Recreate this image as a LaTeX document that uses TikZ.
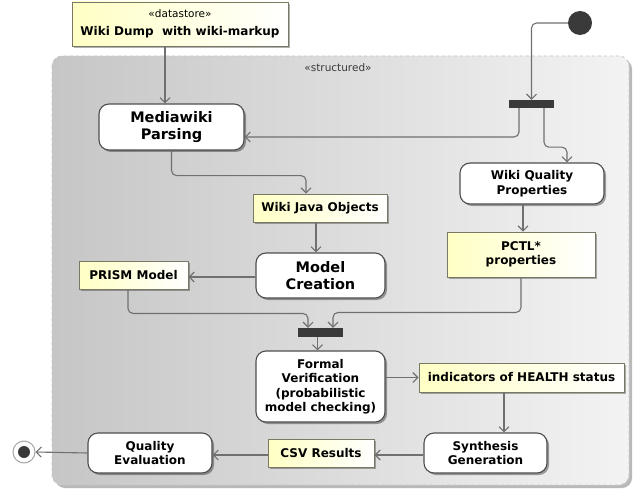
\documentclass[tikz,border=0pt]{standalone}
\usepackage{fontspec}
\setmainfont{DejaVu Sans}
\usetikzlibrary{arrows.meta,shadows}
\definecolor{edgec}{RGB}{112,112,112}
\definecolor{darkc}{RGB}{58,58,58}
\definecolor{objborder}{RGB}{120,120,100}
\definecolor{objyel}{RGB}{255,255,196}
\definecolor{regL}{RGB}{198,198,198}
\definecolor{regR}{RGB}{243,243,243}
\tikzset{
  action/.style={rectangle, rounded corners=10pt, draw=darkc!90, line width=1.1pt, fill=white,
    align=center, inner sep=0pt, font=\bfseries\fontsize{12}{14.5}\selectfont,
    drop shadow={shadow xshift=2pt, shadow yshift=-2pt, opacity=0.35, fill=black}},
  bigaction/.style={action, font=\bfseries\fontsize{14.5}{17}\selectfont},
  obj/.style={rectangle, draw=objborder, line width=0.9pt, left color=objyel, right color=white,
    align=center, inner sep=0pt, font=\bfseries\fontsize{12}{14.5}\selectfont,
    drop shadow={shadow xshift=2pt, shadow yshift=-2pt, opacity=0.3, fill=black}},
  bar/.style={rectangle, fill=darkc, draw=none, inner sep=0pt},
  flow/.style={draw=edgec, line width=1.1pt, rounded corners=5pt,
    -{Straight Barb[length=5pt,width=10pt]}},
  stereo/.style={font=\fontsize{10.5}{12}\selectfont}
}
\begin{document}
\begin{tikzpicture}[x=1pt,y=-1pt]
\useasboundingbox (0,0) rectangle (644,489);
\fill[white] (0,0) rectangle (644,489);
% structured region
\fill[gray!55, rounded corners=10pt] (55,59) rectangle (632,488);
\shade[left color=regL, right color=regR, rounded corners=10pt] (52,56) rectangle (629,485);
\draw[gray!45, dashed, line width=0.8pt, rounded corners=10pt] (52,56) rectangle (629,485);
\node[stereo, text=darkc] (stlabel) at (338,68) {«structured»};

% nodes
\node[obj, minimum width=216pt, minimum height=44pt] (ds) at (180,24)
  {{\mdseries\fontsize{10.5}{12}\selectfont «datastore»}\\[3pt] Wiki Dump\ \ with wiki-markup};
\node[bigaction, minimum width=145pt, minimum height=46pt] (mp) at (171.5,127) {Mediawiki\\Parsing};
\node[obj, minimum width=134pt, minimum height=28pt] (wjo) at (320,208) {Wiki Java Objects};
\node[bigaction, minimum width=129pt, minimum height=45pt] (mc) at (320.5,275.5) {Model\\Creation};
\node[action, minimum width=144pt, minimum height=41pt] (wqp) at (532,183.5) {Wiki Quality\\Properties};
\node[obj, minimum width=148pt, minimum height=45pt] (pctl) at (521,254.5) {PCTL*\\properties};
\node[obj, minimum width=109pt, minimum height=28pt] (prism) at (133.5,275) {PRISM Model};
\node[action, minimum width=129pt, minimum height=71pt] (fv) at (320.5,386.5)
  {Formal\\Verification\\(probabilistic\\model checking)};
\node[obj, minimum width=205pt, minimum height=29pt] (ind) at (521.5,377.5) {indicators of HEALTH status};
\node[action, minimum width=123pt, minimum height=40pt] (syn) at (485.5,453) {Synthesis\\Generation};
\node[obj, minimum width=106pt, minimum height=28pt] (csv) at (321,453) {CSV Results};
\node[action, minimum width=124pt, minimum height=40pt] (qe) at (150,453) {Quality\\Evaluation};

\node[circle, fill=darkc, minimum size=24pt, inner sep=0pt] (init) at (580,23) {};
\node[bar, minimum width=45pt, minimum height=8pt] (fork) at (531.5,104) {};
\node[bar, minimum width=45pt, minimum height=9pt] (join) at (320.5,332.5) {};
\node[circle, draw=gray!70, line width=1pt, fill=white, minimum size=22pt, inner sep=0pt] (final) at (24,452) {};
\node[circle, fill=darkc, minimum size=12pt, inner sep=0pt] (finaldot) at (final) {};

% connectors
\draw[flow] (init.west) -| (fork.north);
\draw[flow] ([xshift=-12.5pt]fork.south) |- ([yshift=-10pt]mp.east);
\draw[flow] ([xshift=12.5pt]fork.south) -- ++(0,39) -| ([xshift=35pt]wqp.north);
\draw[flow] ([xshift=-15pt]ds.south) -- ([xshift=-15pt]ds.south |- mp.north);
\draw[flow] (mp.south) -- ++(0,25) -| ([xshift=-14pt]wjo.north);
\draw[flow] ([xshift=-4pt]wjo.south) -- ([xshift=-4pt]wjo.south |- mc.north);
\draw[flow] ([xshift=-9pt]wqp.south) -- ([xshift=-9pt]wqp.south |- pctl.north);
\draw[flow] (pctl.south) -- ++(0,35) -| ([xshift=12.5pt]join.north);
\draw[flow] ([yshift=-1.5pt]mc.west) -- ([yshift=-1.5pt]mc.west -| prism.east);
\draw[flow] ([xshift=-5.5pt]prism.south) -- ++(0,24) -| ([xshift=-12.5pt]join.north);
\draw[flow] ([xshift=-3pt]join.south) -- ([xshift=-3pt]join.south |- fv.north);
\draw[flow] (fv.east |- ind.west) -- (ind.west);
\draw[flow] ([xshift=-17.5pt]ind.south) -- ([xshift=-17.5pt]ind.south |- syn.north);
\draw[flow] ([yshift=-2pt]syn.west) -- ([yshift=-2pt]syn.west -| csv.east);
\draw[flow] ([yshift=-2pt]csv.west) -- ([yshift=-2pt]csv.west -| qe.east);
\draw[flow] (qe.west) -- (final.east);
\end{tikzpicture}
\end{document}
